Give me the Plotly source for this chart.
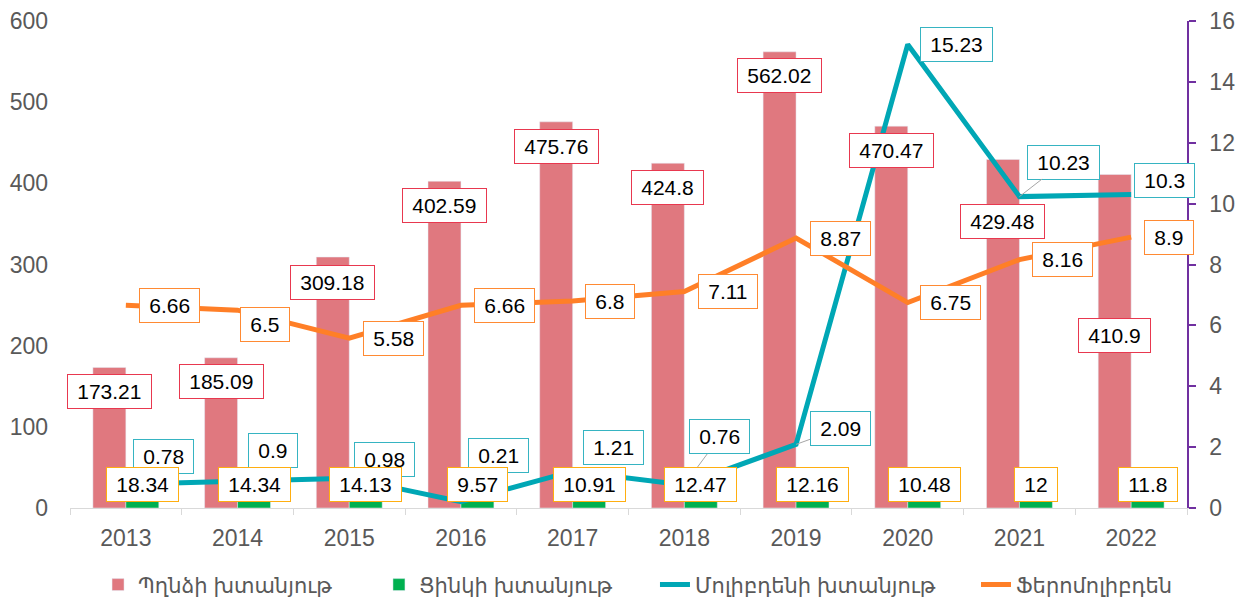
import plotly.graph_objects as go

years = ["2013", "2014", "2015", "2016", "2017", "2018", "2019", "2020", "2021", "2022"]
copper = [173.21, 185.09, 309.18, 402.59, 475.76, 424.8, 562.02, 470.47, 429.48, 410.9]
zinc = [18.34, 14.34, 14.13, 9.57, 10.91, 12.47, 12.16, 10.48, 12, 11.8]
molybdenum = [0.78, 0.9, 0.98, 0.21, 1.21, 0.76, 2.09, 15.23, 10.23, 10.3]
ferromoly = [6.66, 6.5, 5.58, 6.66, 6.8, 7.11, 8.87, 6.75, 8.16, 8.9]

names = ["Պղնձի խտանյութ", "Ցինկի խտանյութ", "Մոլիբդենի խտանյութ", "Ֆերոմոլիբդեն"]

# label placement offsets (pixels): box centre relative to data point
copper_dy = [24.5, 24, 25, 24, 24.5, 24, 24, 24.5, 62.5, 161]
moly_dx = [38, 35, 35, 38, 41, 35.5, 44, 49, 44.5, 33]
moly_dy = [-27.5, -30, -19, -46, -24, -48, -16, 0, -34.6, -13.5]
moly_leader = [False, False, False, True, False, True, True, False, True, False]
ferro_dx = [43.5, 27, 44, 43.5, 37, 43.5, 44, 43, 43, 37.5]
ferro_dy = [0, 14, 0, 0, 0, 0, 0, 0, 0, 0]
legend_x = [0.0251, 0.2766, 0.5237, 0.8111]

RED = "#E0787F"
GREEN = "#00B050"
TEAL = "#00A7B5"
ORANGE = "#FF7F27"
FONT = "Arial, 'Liberation Sans', 'DejaVu Sans', sans-serif"
GREY = "#595959"

fig = go.Figure()
fig.add_trace(go.Bar(x=years, y=copper, name=names[0], marker_color=RED, yaxis="y",
                     legend="legend"))
fig.add_trace(go.Bar(x=years, y=zinc, name=names[1], marker_color=GREEN, yaxis="y",
                     legend="legend2"))
fig.add_trace(go.Scatter(x=years, y=molybdenum, name=names[2], mode="lines",
                         line=dict(color=TEAL, width=5), yaxis="y2", legend="legend3"))
fig.add_trace(go.Scatter(x=years, y=ferromoly, name=names[3], mode="lines",
                         line=dict(color=ORANGE, width=5), yaxis="y2", legend="legend4"))

SP = "\u2009"
ann = []
BAR_OFF = 16.5


def label(i, y, yref, text, border, ax, ay, leader=False):
    ann.append(dict(
        x=i, y=y, xref="x", yref=yref, text=SP + text + SP,
        showarrow=True, ax=ax, ay=ay, axref="pixel", ayref="pixel",
        arrowhead=0, arrowwidth=1, standoff=0, startstandoff=0,
        arrowcolor="#A6A6A6" if leader else "rgba(0,0,0,0)",
        font=dict(family=FONT, size=21, color="#000000"),
        bgcolor="#FFFFFF", bordercolor=border, borderwidth=1, borderpad=5,
    ))


def fmt(v):
    return ("%g" % v)


for i in range(len(years)):
    label(i, copper[i], "y", fmt(copper[i]), "#E8384F", -BAR_OFF, copper_dy[i])
for i in range(len(years)):
    label(i, molybdenum[i], "y2", fmt(molybdenum[i]), "#36B4C2", moly_dx[i], moly_dy[i], moly_leader[i])
for i in range(len(years)):
    label(i, ferromoly[i], "y2", fmt(ferromoly[i]), "#FF8A33", ferro_dx[i], ferro_dy[i])
for i in range(len(years)):
    label(i, 0, "y", fmt(zinc[i]), "#FFAE10", BAR_OFF, -24)


def leg(x):
    return dict(orientation="h", x=x, xanchor="left", y=-0.158, yanchor="middle",
                font=dict(family=FONT, size=21, color=GREY), bgcolor="rgba(0,0,0,0)")


fig.update_layout(
    width=1239, height=598,
    margin=dict(l=62, r=60, t=13, b=98, autoexpand=False),
    paper_bgcolor="#FFFFFF", plot_bgcolor="#FFFFFF",
    barmode="group", bargap=0.41, bargroupgap=0,
    font=dict(family=FONT, size=23, color=GREY),
    showlegend=True,
    legend=leg(legend_x[0]),
    legend2=leg(legend_x[1]),
    legend3=leg(legend_x[2]),
    legend4=leg(legend_x[3]),
    annotations=ann,
    xaxis=dict(type="category", range=[-0.5, len(years) - 0.5], showline=True,
               linecolor="#D9D9D9", linewidth=1, automargin=False,
               ticks="outside", tickson="boundaries", ticklen=6, tickcolor="#D9D9D9",
               showgrid=False, zeroline=False, tickfont=dict(size=23, color=GREY),
               ticklabelstandoff=9),
    yaxis=dict(range=[0, 600], dtick=100, showline=False, showgrid=False, zeroline=False,
               automargin=False,
               ticks="", tickfont=dict(size=23, color=GREY), ticklabelstandoff=21),
    yaxis2=dict(range=[0, 16], dtick=2, overlaying="y", side="right", showline=True,
                automargin=False,
                linecolor="#7030A0", linewidth=1.5, ticks="outside", ticklen=7,
                tickcolor="#7030A0", tickwidth=1.5, showgrid=False, zeroline=False,
                tickfont=dict(size=23, color=GREY), ticklabelstandoff=9),
)

fig.write_html("out.html")
